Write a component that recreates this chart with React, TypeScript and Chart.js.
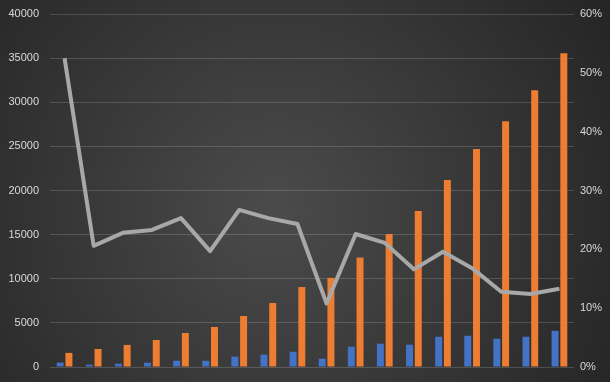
import React, { useEffect, useRef } from "react";
import { Chart, registerables } from "chart.js";

Chart.register(...registerables);

const categories = ["1","2","3","4","5","6","7","8","9","10","11","12","13","14","15","16","17","18"];
const blueValues = [500, 260, 370, 490, 710, 700, 1170, 1400, 1730, 940, 2300, 2640, 2530, 3430, 3540, 3200, 3430, 4110];
const orangeValues = [1600, 2040, 2500, 3060, 3850, 4530, 5780, 7250, 9060, 10100, 12400, 15060, 17670, 21180, 24690, 27860, 31370, 35560];
const lineValues = [52.5, 20.6, 22.8, 23.3, 25.3, 19.7, 26.7, 25.3, 24.3, 10.8, 22.6, 21.1, 16.6, 19.6, 16.8, 12.8, 12.4, 13.3];

const bgPlugin = {
  id: "bgGradient",
  beforeDraw(chart: any) {
    const { ctx, width, height } = chart;
    ctx.save();
    const g = ctx.createRadialGradient(width * 0.45, height * 0.55, 10, width * 0.45, height * 0.55, width * 0.62);
    g.addColorStop(0, "#4a4a4a");
    g.addColorStop(1, "#262626");
    ctx.fillStyle = g;
    ctx.fillRect(0, 0, width, height);
    ctx.restore();
  },
};

export default function App() {
  const ref = useRef<HTMLCanvasElement | null>(null);
  useEffect(() => {
    document.body.style.margin = "0";
    const chart = new Chart(ref.current as HTMLCanvasElement, {
      type: "bar",
      data: {
        labels: categories,
        datasets: [
          {
            type: "line",
            data: lineValues,
            yAxisID: "y1",
            borderColor: "#a8a8a8",
            borderWidth: 4,
            borderJoinStyle: "round",
            pointRadius: 0,
            tension: 0,
            order: 0,
          } as any,
          {
            data: blueValues,
            yAxisID: "y",
            backgroundColor: "#4472c4",
            categoryPercentage: 0.6,
            barPercentage: 0.8,
            order: 1,
          },
          {
            data: orangeValues,
            yAxisID: "y",
            backgroundColor: "#ed7d31",
            categoryPercentage: 0.6,
            barPercentage: 0.8,
            order: 1,
          },
        ],
      },
      options: {
        animation: false,
        responsive: true,
        maintainAspectRatio: false,
        layout: { padding: { top: 14, bottom: 15, left: 0, right: 0 } },
        plugins: { legend: { display: false }, tooltip: { enabled: false } },
        scales: {
          x: { display: false, grid: { display: false } },
          y: {
            position: "left",
            min: 0,
            max: 40000,
            ticks: {
              stepSize: 5000,
              color: "#d9d9d9",
              font: { family: "Liberation Sans", size: 11 },
              padding: 11,
              callback: (v: any) => String(v),
            },
            grid: { color: "rgba(255,255,255,0.16)", drawTicks: false },
            border: { display: false },
            afterFit(scale: any) {
              scale.width = 50;
              scale.paddingTop = 2;
              scale.paddingBottom = 2;
            },
          },
          y1: {
            position: "right",
            min: 0,
            max: 60,
            ticks: {
              stepSize: 10,
              color: "#d9d9d9",
              font: { family: "Liberation Sans", size: 11 },
              padding: 6,
              callback: (v: any) => v + "%",
            },
            grid: { display: false, drawTicks: false },
            border: { display: false },
            afterFit(scale: any) {
              scale.width = 36;
              scale.paddingTop = 2;
              scale.paddingBottom = 2;
            },
          },
        },
      },
      plugins: [bgPlugin],
    });
    return () => chart.destroy();
  }, []);
  return (
    <div style={{ position: "fixed", left: 0, top: 0, width: 610, height: 382 }}>
      <canvas ref={ref} />
    </div>
  );
}
